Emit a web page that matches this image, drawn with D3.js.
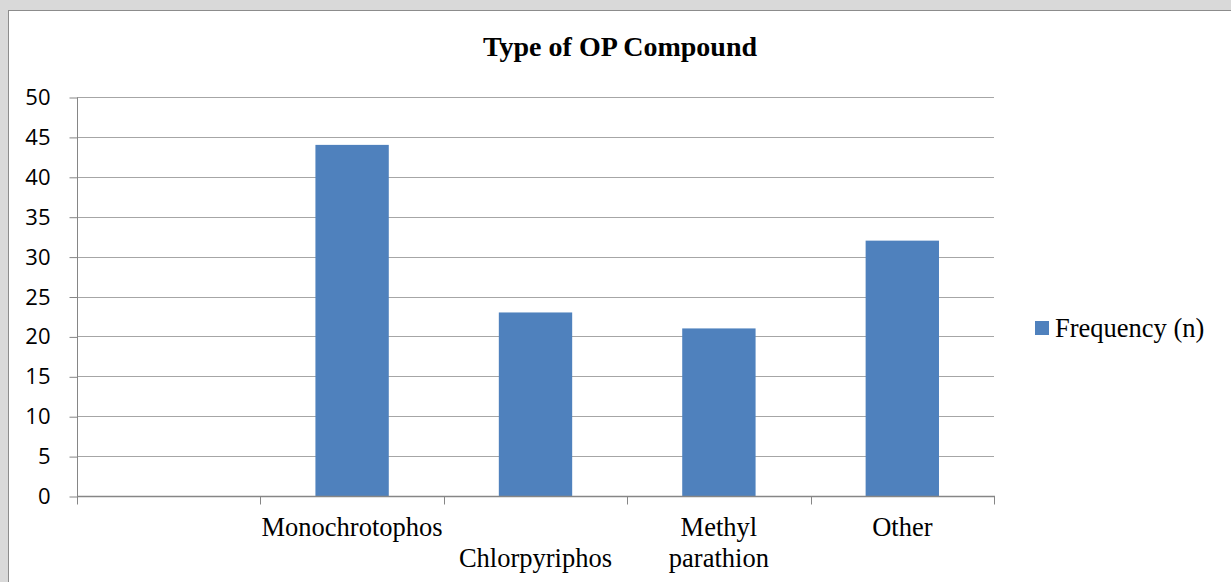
<!DOCTYPE html>
<html>
<head>
<meta charset="utf-8">
<script src="https://cdn.jsdelivr.net/npm/d3@7"></script>
<style>
body { margin: 0; background: #d9d9d9; }
svg { display: block; }
</style>
</head>
<body>
<svg id="chart" width="1231" height="582"></svg>
<script>
// data
const categories = ['', 'Monochrotophos', 'Chlorpyriphos', 'Methyl parathion', 'Other'];
const frequency = [null, 44, 23, 21, 32];
const labelRow = [0, 0, 1, 0, 0]; // excel staggers the crowded label
const yTicks = [0, 5, 10, 15, 20, 25, 30, 35, 40, 45, 50];
const seriesName = 'Frequency (n)';
const chartTitle = 'Type of OP Compound';

const svg = d3.select('#chart');
const serif = '"Liberation Serif", "Times New Roman", serif';

// white chart area with frame
svg.append('rect')
	.attr('x', 8.5)
	.attr('y', 10.5)
	.attr('width', 1240)
	.attr('height', 600)
	.style('fill', 'white')
	.style('stroke', '#8c8c8c')
	.style('stroke-width', '1px');

const plotLeft = 77, plotRight = 994, plotTop = 97, plotBottom = 496;

const x = d3.scaleBand()
	.domain(d3.range(categories.length))
	.range([plotLeft, plotRight]);

const y = d3.scaleLinear()
	.domain([0, 50])
	.range([plotBottom, plotTop]);

// gridlines
svg.append('g')
	.selectAll('line')
	.data(yTicks.slice(1))
	.join('line')
	.attr('x1', plotLeft)
	.attr('x2', plotRight)
	.attr('y1', d => Math.round(y(d)) + 0.5)
	.attr('y2', d => Math.round(y(d)) + 0.5)
	.style('stroke', '#a6a6a6')
	.style('stroke-width', '1px');

// bars
svg.append('g')
	.selectAll('rect')
	.data(frequency.map((v, i) => ({ v, i })).filter(d => d.v != null))
	.join('rect')
	.attr('x', d => x(d.i) + x.bandwidth() * 0.3)
	.attr('width', x.bandwidth() * 0.4)
	.attr('y', d => y(d.v))
	.attr('height', d => plotBottom - y(d.v))
	.style('fill', '#4f81bd');

// y axis
const yAxis = svg.append('g')
	.attr('transform', 'translate(' + (plotLeft + 0.5) + ',0.5)')
	.call(d3.axisLeft(y).tickValues(yTicks).tickSize(8).tickPadding(19));
yAxis.select('.domain').style('stroke', '#868686').attr('d', 'M0,' + plotTop + 'V' + plotBottom);
yAxis.selectAll('.tick line').style('stroke', '#868686');
yAxis.selectAll('.tick text')
	.style('font-family', '"Open Sans", sans-serif')
	.style('font-size', '22px')
	.style('fill', '#000');

// x axis
const xAxisG = svg.append('g').attr('transform', 'translate(0,' + (plotBottom + 0.5) + ')');
xAxisG.append('line')
	.attr('x1', plotLeft).attr('x2', plotRight + 1)
	.style('stroke', '#868686').style('stroke-width', '1.5px');
xAxisG.selectAll('.xtick')
	.data(d3.range(categories.length + 1))
	.join('line')
	.attr('x1', i => Math.round(i < categories.length ? x(i) : plotRight) + 0.5)
	.attr('x2', i => Math.round(i < categories.length ? x(i) : plotRight) + 0.5)
	.attr('y1', 0).attr('y2', 8)
	.style('stroke', '#868686');

// category labels
categories.forEach((c, i) => {
	if (!c) return;
	const words = c.split(' ');
	const cx = x(i) + x.bandwidth() / 2;
	const t = svg.append('text')
		.attr('x', cx)
		.attr('y', 536 + labelRow[i] * 31)
		.attr('text-anchor', 'middle')
		.style('font-family', serif)
		.style('font-size', '26.5px');
	const lines = c.length > 15 ? words : [c];
	lines.forEach((w, k) => {
		t.append('tspan').attr('x', cx).attr('dy', k === 0 ? 0 : 31).text(w);
	});
});

// title
svg.append('text')
	.attr('x', 620)
	.attr('y', 56)
	.attr('text-anchor', 'middle')
	.style('font-family', serif)
	.style('font-weight', 'bold')
	.style('font-size', '28px')
	.text(chartTitle);

// legend
const legend = svg.append('g').attr('transform', 'translate(1035,321)');
legend.append('rect')
	.attr('width', 14).attr('height', 14)
	.style('fill', '#4f81bd');
legend.append('text')
	.attr('x', 20)
	.attr('y', 16)
	.style('font-family', serif)
	.style('font-size', '26.5px')
	.text(seriesName);
</script>
</body>
</html>
